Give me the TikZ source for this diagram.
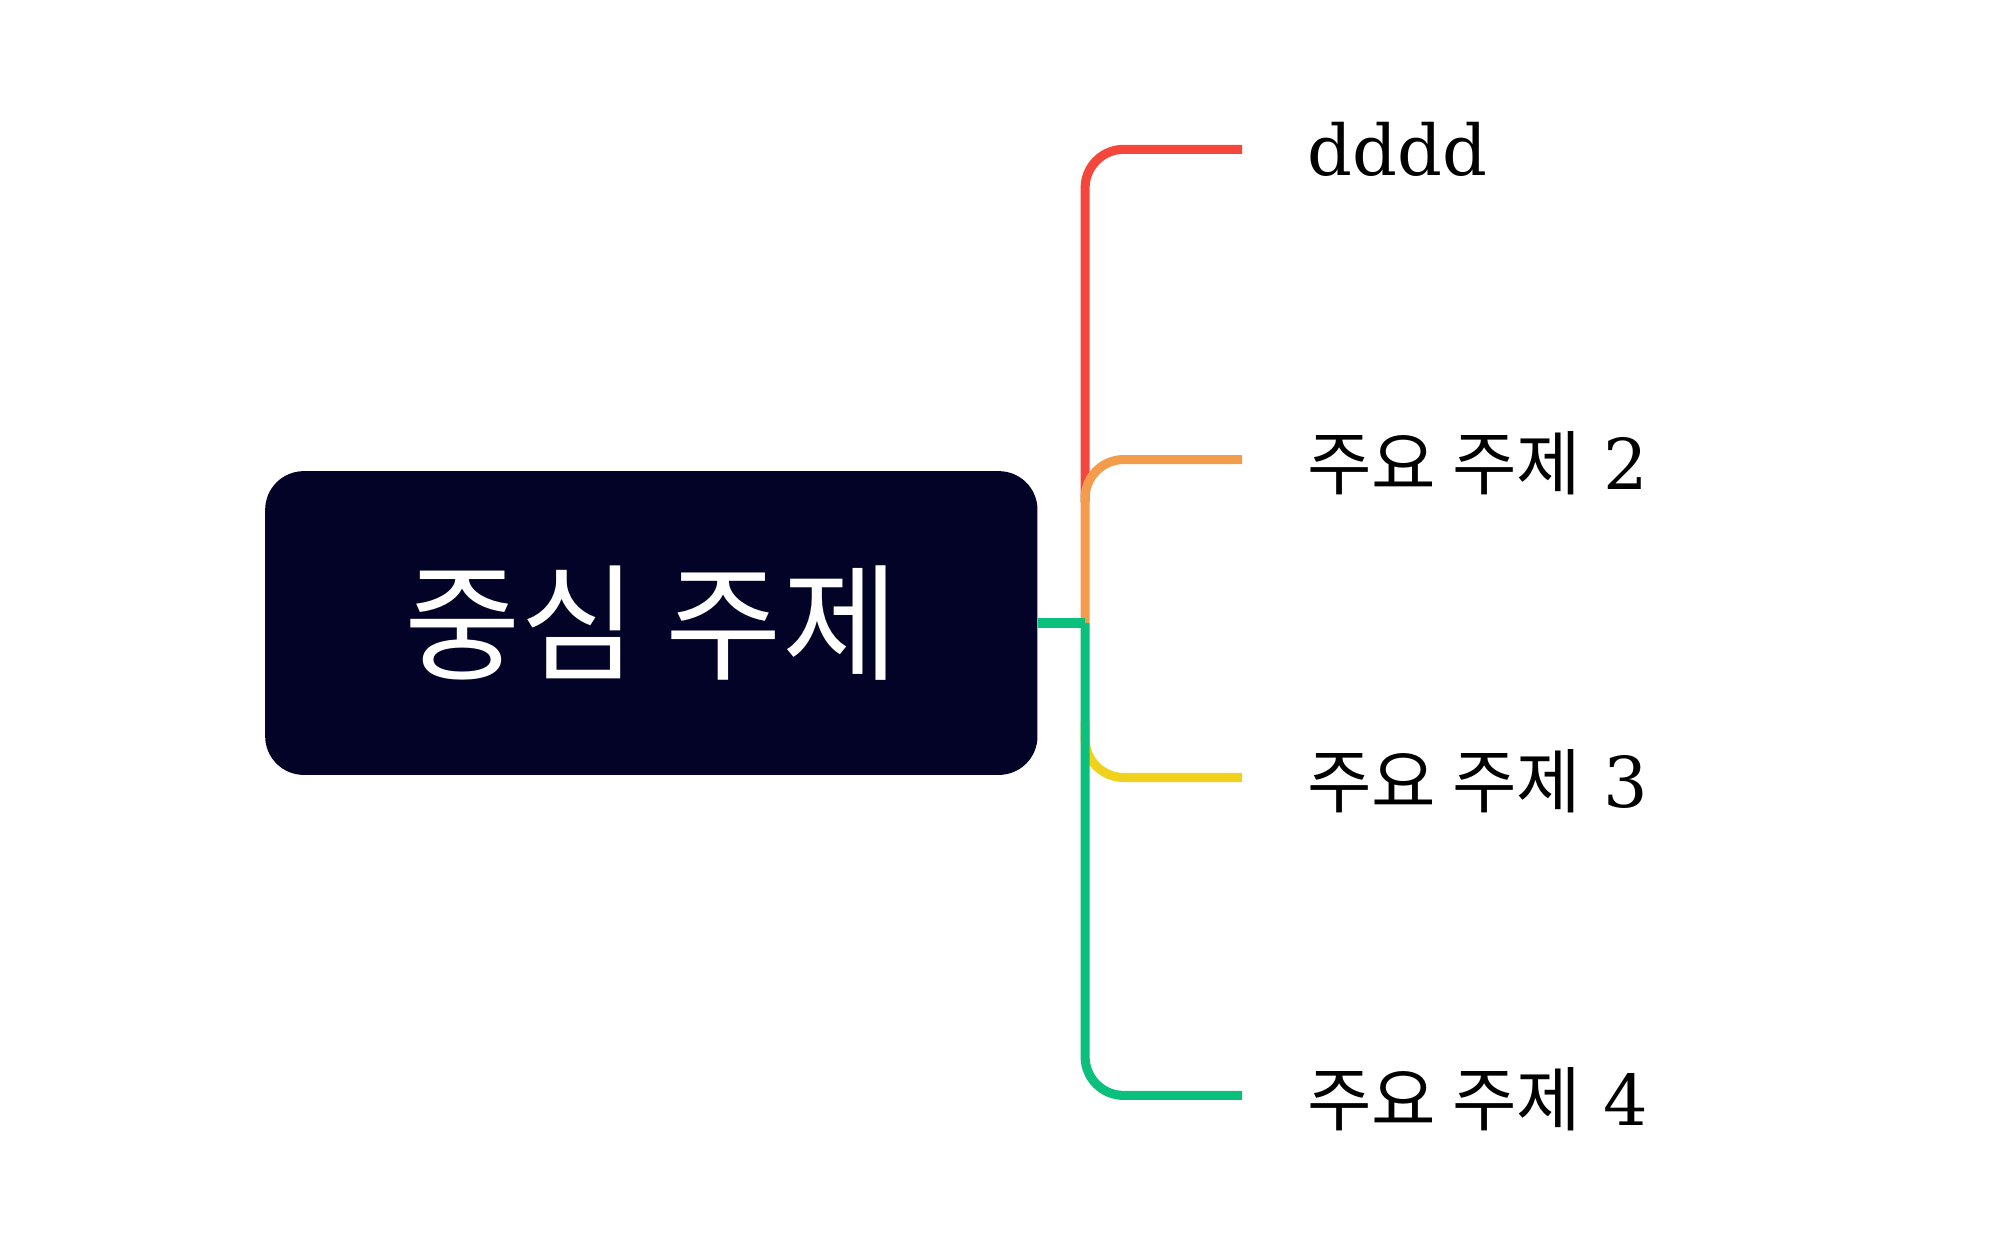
\documentclass[tikz,border=0pt]{standalone}
\usepackage{fontspec}
\setmainfont{DejaVu Serif}
\newfontfamily\cjk{Noto Sans CJK KR}
\definecolor{cbox}{HTML}{020326}
\definecolor{cred}{HTML}{F5463C}
\definecolor{corange}{HTML}{F39D4C}
\definecolor{cyellow}{HTML}{F0D21C}
\definecolor{cgreen}{HTML}{0BBF7C}
\tikzset{branch/.style={line width=2pt, rounded corners=0.3cm},
 lab/.style={anchor=west, inner sep=0pt, font=\fontsize{15.5}{19}\selectfont}}
\begin{document}
\begin{tikzpicture}
\useasboundingbox (0,0) rectangle (15.6,-9.66);
\node[fill=cbox, rounded corners=0.3cm, minimum width=6cm, minimum height=2.36cm, inner sep=0pt,
 text=white, font=\cjk\fontsize{28}{34}\selectfont] (c) at (5.06,-4.84) {중심 주제};
\coordinate (j) at (8.43,-4.84);
\coordinate (e1) at (9.65,-1.16);
\coordinate (e2) at (9.65,-3.57);
\coordinate (e3) at (9.65,-6.04);
\coordinate (e4) at (9.65,-8.51);
\node[lab] (t1) at (10.15,-1.16) {dddd};
\node[lab] (t2) at (10.15,-3.6) {{\cjk 주요 주제} 2};
\node[lab] (t3) at (10.15,-6.07) {{\cjk 주요 주제} 3};
\node[lab] (t4) at (10.15,-8.54) {{\cjk 주요 주제} 4};
\draw[branch, cred] (8.43,-3.9) |- (e1);
\draw[branch, cyellow] (8.43,-5.6) |- (e3);
\draw[branch, corange] (j) |- (e2);
\draw[line width=2pt, cgreen] (c.east) -- (j);
\draw[branch, cgreen] (j) |- (e4);
\end{tikzpicture}
\end{document}
